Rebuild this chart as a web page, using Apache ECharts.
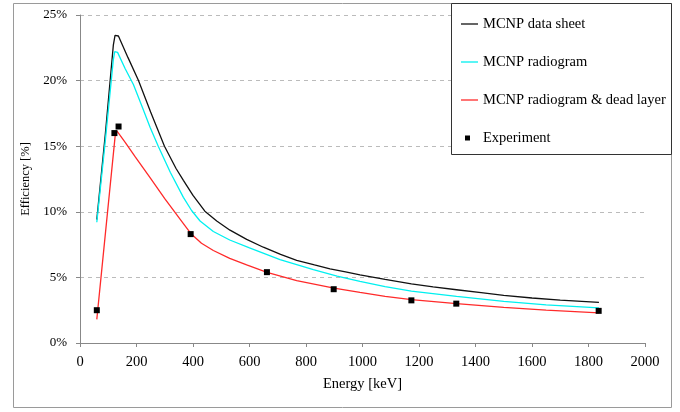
<!DOCTYPE html>
<html><head><meta charset="utf-8">
<script src="https://cdn.jsdelivr.net/npm/echarts@6/dist/echarts.min.js"></script>
<style>html,body{margin:0;padding:0;background:#fff}#c{width:680px;height:412px}</style>
</head><body><div id="c"></div>
<script>
var seriesNames = ['MCNP data sheet', 'MCNP radiogram', 'MCNP radiogram & dead layer', 'Experiment'];
var xTicks = [0, 200, 400, 600, 800, 1000, 1200, 1400, 1600, 1800, 2000];
var yTicks = [0, 5, 10, 15, 20, 25];
var dataSheet = [[59.5,9.4],[90,16.0],[118,22.7],[124,23.45],[130,23.6],[136,23.4],[170,21.75],[207,20.0],[250,17.6],[299,15.0],[340,13.3],[366,12.4],[400,11.25],[442,10.05],[484,9.3],[531,8.6],[590,7.9],[649,7.3],[710,6.75],[767,6.3],[830,5.95],[885,5.65],[940,5.42],[991,5.2],[1080,4.85],[1173,4.5],[1250,4.27],[1333,4.06],[1420,3.84],[1500,3.63],[1600,3.43],[1700,3.27],[1837,3.1]];
var radiogram = [[59.5,9.2],[90,15.5],[118,21.6],[123,22.2],[127,22.35],[133,22.15],[160,20.9],[189,19.7],[220,18.0],[248,16.45],[277,15.0],[320,13.0],[366,11.1],[395,10.1],[425,9.3],[472,8.5],[530,7.85],[600,7.25],[708,6.35],[826,5.59],[910,5.1],[991,4.7],[1080,4.3],[1173,3.95],[1333,3.55],[1500,3.17],[1650,2.9],[1837,2.67]];
var deadLayer = [[59.5,1.8],[125,15.9],[131,16.15],[160,15.3],[195,14.2],[248,12.6],[300,11.0],[366,9.1],[392,8.35],[430,7.6],[472,7.05],[530,6.45],[590,5.95],[662,5.38],[767,4.75],[899,4.19],[991,3.86],[1080,3.55],[1173,3.3],[1333,3.0],[1500,2.71],[1650,2.5],[1837,2.29]];
var experiment = [[59.5,2.5],[121.8,16.0],[136.5,16.5],[391.7,8.3],[661.7,5.4],[898,4.1],[1173,3.25],[1332,3.0],[1836,2.45]];

var font = 'Liberation Serif';
var chart = echarts.init(document.getElementById('c'), null, {renderer: 'canvas'});
var lineSeries = function (name, data, color) {
  return {name: name, type: 'line', data: data, symbol: 'none', smooth: false,
    lineStyle: {color: color, width: 1.3}, itemStyle: {color: color}, z: 2};
};
var lineIcon = 'path://M0,0H170V13H0Z';
chart.setOption({
  animation: false,
  backgroundColor: '#fff',
  textStyle: {fontFamily: font},
  graphic: [
    {type: 'rect', shape: {x: 13.5, y: 3.5, width: 658, height: 404}, style: {fill: 'none', stroke: '#9a9a9a', lineWidth: 1}, z: -10},
    {type: 'rect', shape: {x: 451.5, y: 3.5, width: 220, height: 151}, style: {fill: '#fff', stroke: '#333', lineWidth: 1}, z: 10}
  ],
  grid: {left: 80, right: 35, top: 15, bottom: 69},
  legend: [
    {data: seriesNames.slice(0, 3).map(function (n) { return {name: n, icon: lineIcon}; }),
      orient: 'vertical', left: 461, top: 16.5, padding: 0, itemWidth: 17, itemHeight: 12, itemGap: 23, z: 20,
      textStyle: {fontFamily: font, fontSize: 14.5, color: '#000'}},
    {data: [{name: seriesNames[3], icon: 'rect'}], orient: 'vertical', left: 465, top: 130.5, padding: 0, itemWidth: 5, itemHeight: 5, z: 20,
      textStyle: {fontFamily: font, fontSize: 14.5, color: '#000', padding: [0, 0, 0, 8]}}
  ],
  xAxis: {
    type: 'value', min: xTicks[0], max: xTicks[xTicks.length - 1], interval: 200,
    name: 'Energy [keV]', nameLocation: 'middle', nameGap: 34,
    nameTextStyle: {fontFamily: font, fontSize: 14.5, color: '#000'},
    axisLine: {lineStyle: {color: '#888'}},
    axisTick: {show: true, length: 4, lineStyle: {color: '#888'}},
    axisLabel: {fontFamily: font, fontSize: 14.5, color: '#000', margin: 12, formatter: function (v) { return String(v); }},
    splitLine: {show: false}
  },
  yAxis: {
    type: 'value', min: yTicks[0], max: yTicks[yTicks.length - 1], interval: 5,
    name: 'Efficiency [%]', nameLocation: 'middle', nameGap: 46,
    nameTextStyle: {fontFamily: font, fontSize: 12.5, color: '#000'},
    axisLine: {show: true, lineStyle: {color: '#888'}},
    axisTick: {show: true, length: 4, lineStyle: {color: '#888'}},
    axisLabel: {fontFamily: font, fontSize: 13, color: '#000', margin: 13, formatter: '{value}%'},
    splitLine: {show: true, lineStyle: {color: '#bbb', type: [4, 4]}}
  },
  series: [
    lineSeries(seriesNames[0], dataSheet, '#111111'),
    lineSeries(seriesNames[1], radiogram, '#00f0f0'),
    lineSeries(seriesNames[2], deadLayer, '#ff2a2a'),
    {name: seriesNames[3], type: 'scatter', data: experiment, symbol: 'rect', symbolSize: 6,
      itemStyle: {color: '#000', opacity: 1}, z: 5}
  ]
});
</script></body></html>
